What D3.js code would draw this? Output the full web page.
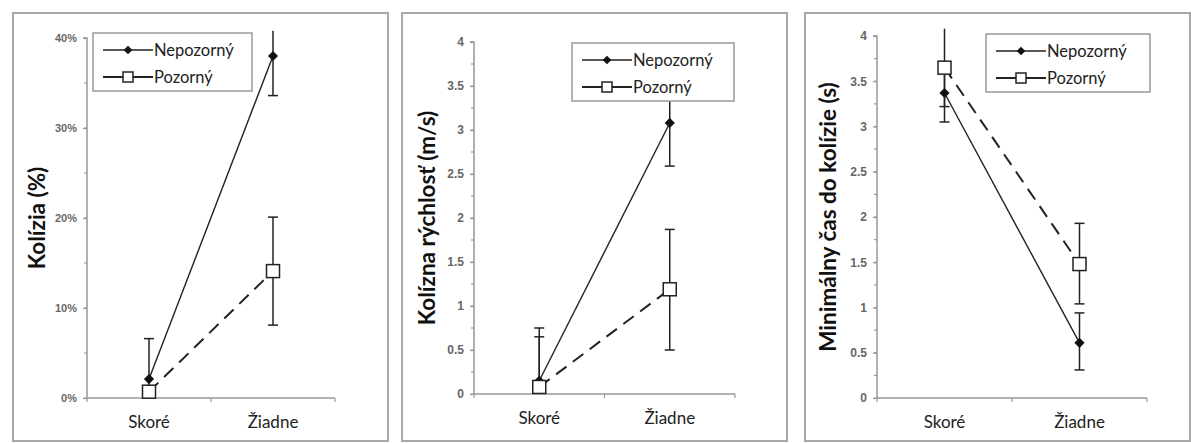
<!DOCTYPE html>
<html>
<head>
<meta charset="utf-8">
<script src="https://cdn.jsdelivr.net/npm/d3@7"></script>
<style>
  body { margin: 0; background: #fff; }
  svg { display: block; }
</style>
</head>
<body>
<div class="chart"></div>
<script>
// categories and series
const categories = ['Skoré', 'Žiadne'];
const seriesNames = ['Nepozorný', 'Pozorný'];

// panel 1 - Kolízia (%)
const collisionNep = [2.1, 38.0];
const collisionNepHi = [6.6, 40.8];
const collisionNepLo = [0, 33.6];
const collisionPoz = [0.7, 14.1];
const collisionPozHi = [0.7, 20.1];
const collisionPozLo = [0.7, 8.1];
const collisionTicks = [0, 10, 20, 30, 40];

// panel 2 - Kolízna rýchlosť (m/s)
const speedNep = [0.15, 3.08];
const speedNepHi = [0.65, 3.58];
const speedNepLo = [0, 2.59];
const speedPoz = [0.08, 1.19];
const speedPozHi = [0.75, 1.87];
const speedPozLo = [0, 0.5];
const speedTicks = [0, 0.5, 1, 1.5, 2, 2.5, 3, 3.5, 4];

// panel 3 - Minimálny čas do kolízie (s)
const ttcNep = [3.37, 0.61];
const ttcNepHi = [3.69, 0.94];
const ttcNepLo = [3.05, 0.31];
const ttcPoz = [3.65, 1.48];
const ttcPozHi = [4.08, 1.93];
const ttcPozLo = [3.22, 1.04];
const ttcTicks = [0, 0.5, 1, 1.5, 2, 2.5, 3, 3.5, 4];

const W = 1191, H = 443;
const fontFamily = 'Lato, "Open Sans", sans-serif';

const svg = d3.select('.chart').append('svg')
    .attr('width', W)
    .attr('height', H);

const panels = [
    {
        frame: [13, 13, 375, 428],
        plot: { left: 87, right: 335, top: 38, bottom: 398 },
        max: 40, ticks: collisionTicks, fmt: d => d + '%', minor: 5, tickSize: 11,
        title: 'Kolízia (%)', titleX: 37,
        legend: { x: 93, y: 33, w: 159, h: 58 },
        nep: [collisionNep, collisionNepLo, collisionNepHi],
        poz: [collisionPoz, collisionPozLo, collisionPozHi]
    },
    {
        frame: [402, 13, 385, 428],
        plot: { left: 474, right: 735, top: 42, bottom: 394 },
        max: 4, ticks: speedTicks, fmt: d => d, minor: 0.25, tickSize: 12,
        title: 'Kolízna rýchlosť (m/s)', titleX: 427,
        legend: { x: 572, y: 43, w: 162, h: 58 },
        nep: [speedNep, speedNepLo, speedNepHi],
        poz: [speedPoz, speedPozLo, speedPozHi]
    },
    {
        frame: [805, 13, 385, 428],
        plot: { left: 877, right: 1147, top: 36, bottom: 398 },
        max: 4, ticks: ttcTicks, fmt: d => d, minor: 0.25, tickSize: 12,
        title: 'Minimálny čas do kolízie (s)', titleX: 828,
        legend: { x: 986, y: 34, w: 164, h: 58 },
        nep: [ttcNep, ttcNepLo, ttcNepHi],
        poz: [ttcPoz, ttcPozLo, ttcPozHi]
    }
];

const ink = '#222';
const diamond = d3.symbol().type(d3.symbolSquare).size(52);

function drawPanel(p) {
    const g = svg.append('g');

    // frame
    g.append('rect')
        .attr('x', p.frame[0]).attr('y', p.frame[1])
        .attr('width', p.frame[2]).attr('height', p.frame[3])
        .attr('fill', 'none')
        .attr('stroke', '#a8a8a8')
        .attr('stroke-width', 2);

    const x = d3.scaleBand()
        .domain(categories)
        .range([p.plot.left, p.plot.right]);
    const y = d3.scaleLinear()
        .domain([0, p.max])
        .range([p.plot.bottom, p.plot.top]);

    // minor ticks
    const minorTicks = d3.range(0, p.max + p.minor / 2, p.minor);
    g.append('g')
        .selectAll('line')
        .data(minorTicks)
        .join('line')
        .attr('x1', p.plot.left - 3).attr('x2', p.plot.left)
        .attr('y1', d => y(d)).attr('y2', d => y(d))
        .attr('stroke', '#999').attr('stroke-width', 1.2);

    // y axis
    const yAxis = d3.axisLeft(y)
        .tickValues(p.ticks)
        .tickFormat(p.fmt)
        .tickSize(4)
        .tickPadding(6);
    const ya = g.append('g')
        .attr('transform', `translate(${p.plot.left},0)`)
        .call(yAxis);
    ya.select('.domain').attr('stroke', '#999').attr('stroke-width', 1.5).attr('d', `M-4,${p.plot.top}H0V${p.plot.bottom}`);
    ya.selectAll('.tick line').attr('stroke', '#999').attr('stroke-width', 1.2);
    ya.selectAll('.tick text')
        .attr('fill', '#666')
        .attr('font-family', 'Arial, "Liberation Sans", sans-serif')
        .attr('font-weight', 'bold')
        .attr('font-size', p.tickSize);

    // x axis
    const bounds = [p.plot.left, p.plot.left + x.bandwidth(), p.plot.right];
    g.append('line')
        .attr('x1', p.plot.left).attr('x2', p.plot.right)
        .attr('y1', p.plot.bottom).attr('y2', p.plot.bottom)
        .attr('stroke', '#999').attr('stroke-width', 1.5);
    g.append('g')
        .selectAll('line')
        .data(bounds)
        .join('line')
        .attr('x1', d => d).attr('x2', d => d)
        .attr('y1', p.plot.bottom).attr('y2', p.plot.bottom + 4)
        .attr('stroke', '#999').attr('stroke-width', 1.2);
    g.append('g')
        .selectAll('text')
        .data(categories)
        .join('text')
        .attr('x', d => x(d) + x.bandwidth() / 2)
        .attr('y', p.plot.bottom + 30)
        .attr('text-anchor', 'middle')
        .attr('font-family', fontFamily)
        .attr('font-size', 17)
        .attr('fill', '#222')
        .text(d => d);

    // y title
    const ty = (p.plot.top + p.plot.bottom) / 2;
    g.append('text')
        .attr('transform', `translate(${p.titleX},${ty}) rotate(-90)`)
        .attr('text-anchor', 'middle')
        .attr('dy', '0.35em')
        .attr('font-family', fontFamily)
        .attr('font-weight', 'bold')
        .attr('font-size', 22.5)
        .attr('fill', '#111')
        .text(p.title);

    const cx = d => x(d) + x.bandwidth() / 2;
    const line = d3.line().x(d => cx(d.c)).y(d => y(d.v));

    const rows = (arr) => categories.map((c, i) => ({ c, v: arr[0][i], lo: arr[1][i], hi: arr[2][i] }));
    const nepRows = rows(p.nep);
    const pozRows = rows(p.poz);

    // error bars
    [nepRows, pozRows].forEach(rs => {
        const eb = g.append('g').attr('stroke', ink).attr('stroke-width', 1.5);
        rs.forEach(r => {
            if (r.hi === r.lo) return;
            const top = Math.max(y(r.hi), p.frame[1] + 8);
            eb.append('line')
                .attr('x1', cx(r.c)).attr('x2', cx(r.c))
                .attr('y1', top).attr('y2', y(r.lo));
            if (y(r.hi) >= p.plot.top - 2)
                eb.append('line')
                    .attr('x1', cx(r.c) - 5).attr('x2', cx(r.c) + 5)
                    .attr('y1', y(r.hi)).attr('y2', y(r.hi));
            if (r.lo > 0)
                eb.append('line')
                    .attr('x1', cx(r.c) - 5).attr('x2', cx(r.c) + 5)
                    .attr('y1', y(r.lo)).attr('y2', y(r.lo));
        });
    });

    // lines
    g.append('path')
        .datum(nepRows)
        .attr('d', line)
        .attr('fill', 'none')
        .attr('stroke', ink)
        .attr('stroke-width', 1.4);
    g.append('path')
        .datum(pozRows)
        .attr('d', line)
        .attr('fill', 'none')
        .attr('stroke', ink)
        .attr('stroke-width', 2)
        .attr('stroke-dasharray', '13,8');

    // markers
    g.append('g')
        .selectAll('path')
        .data(nepRows)
        .join('path')
        .attr('d', diamond)
        .attr('transform', d => `translate(${cx(d.c)},${y(d.v)}) rotate(45)`)
        .attr('fill', '#111');
    g.append('g')
        .selectAll('rect')
        .data(pozRows)
        .join('rect')
        .attr('x', d => cx(d.c) - 6.5).attr('y', d => y(d.v) - 6.5)
        .attr('width', 13).attr('height', 13)
        .attr('fill', '#fff')
        .attr('stroke', ink)
        .attr('stroke-width', 1.5);

    // legend
    const L = p.legend;
    const lg = g.append('g');
    lg.append('rect')
        .attr('x', L.x).attr('y', L.y)
        .attr('width', L.w).attr('height', L.h)
        .attr('fill', '#fff')
        .attr('stroke', '#999')
        .attr('stroke-width', 1.5);
    seriesNames.forEach((s, i) => {
        const yy = L.y + 17 + i * 27;
        const x0 = L.x + 10, x1 = L.x + 60, xm = L.x + 35;
        lg.append('line')
            .attr('x1', x0).attr('x2', x1)
            .attr('y1', yy).attr('y2', yy)
            .attr('stroke', ink)
            .attr('stroke-width', i === 0 ? 1.4 : 2);
        if (i === 0) {
            lg.append('path')
                .attr('d', diamond)
                .attr('transform', `translate(${xm},${yy}) rotate(45) scale(0.85)`)
                .attr('fill', '#111');
        } else {
            lg.append('rect')
                .attr('x', xm - 5).attr('y', yy - 5)
                .attr('width', 10).attr('height', 10)
                .attr('fill', '#fff')
                .attr('stroke', ink)
                .attr('stroke-width', 1.5);
        }
        lg.append('text')
            .attr('x', x1 + 1)
            .attr('y', yy)
            .attr('dy', '0.35em')
            .attr('font-family', fontFamily)
            .attr('font-size', 16.5)
            .attr('fill', '#222')
            .text(s);
    });
}

panels.forEach(drawPanel);
</script>
</body>
</html>
